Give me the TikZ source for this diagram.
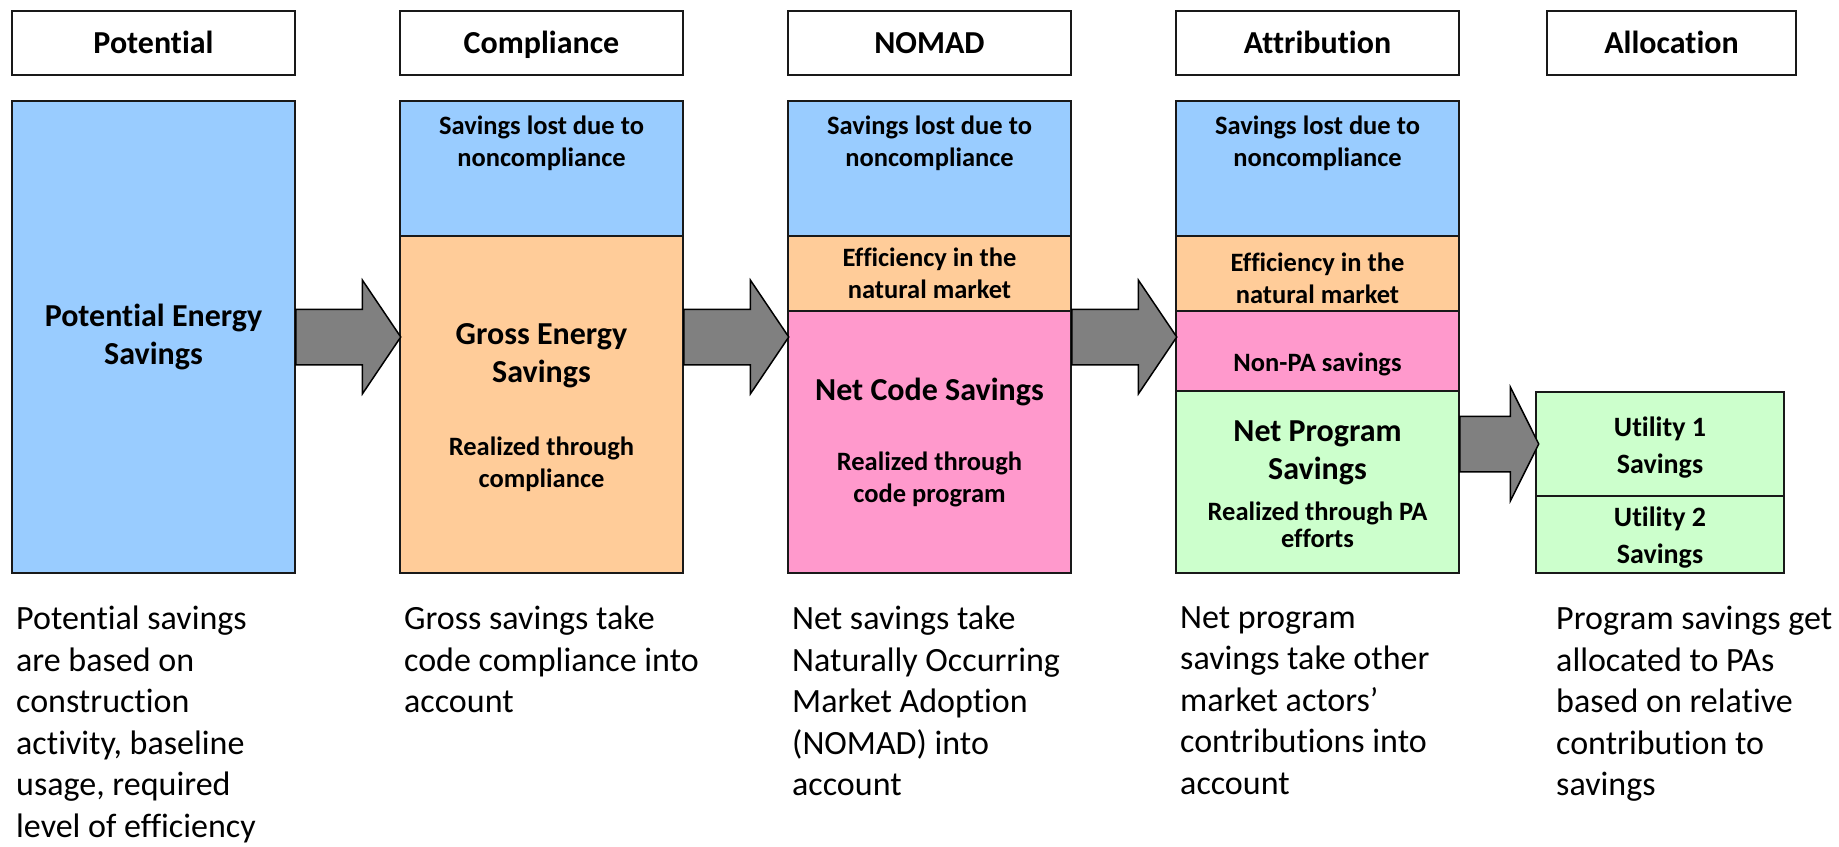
\documentclass[tikz,border=0pt]{standalone}
\usepackage{fontspec}
\setmainfont{Carlito}[Ligatures=NoCommon]
\usetikzlibrary{positioning,shapes.arrows}

\definecolor{lostblue}{HTML}{99CCFF}
\definecolor{marketorange}{HTML}{FFCC99}
\definecolor{netpink}{HTML}{FF99CC}
\definecolor{pagreen}{HTML}{CCFFCC}

\begin{document}
\begin{tikzpicture}[x=1pt,y=-1pt]
% STYLES
\tikzset{%
    stage/.style={%
        rectangle, draw=black!90, line width=2pt, minimum width=283pt,
        minimum height=64pt, inner sep=0pt, outer sep=0pt,
        text height=24pt, text depth=4pt,
        font=\fontsize{32}{39}\selectfont\bfseries
    },
    part/.style={%
        rectangle, draw=black!90, line width=2pt, minimum width=283pt,
        inner sep=0pt, outer sep=0pt
    },
    big/.style={font=\fontsize{32}{38}\selectfont\bfseries, align=center, inner sep=0pt},
    small/.style={font=\fontsize{26.5}{32}\selectfont\bfseries, align=center, inner sep=0pt},
    note/.style={font=\fontsize{34}{41.5}\selectfont, align=left, anchor=north west, inner sep=0pt},
    flow/.style={%
        single arrow, draw=black, fill=black!50, line width=1.5pt,
        minimum height=105pt, inner xsep=0pt, inner ysep=27pt,
        single arrow head extend=29pt, single arrow tip angle=112, anchor=tail
    }
}
\useasboundingbox (0,0) rectangle (1839,846);

% Stage titles
\node [stage] (hpot) at (153.5,43) {Potential};
\node [stage, right=105pt of hpot] (hcomp) {Compliance};
\node [stage, right=105pt of hcomp] (hnomad) {NOMAD};
\node [stage, right=105pt of hnomad] (hattr) {Attribution};
\node [stage, right=88pt of hattr, minimum width=249pt] (halloc) {Allocation};

% Potential
\node [part, big, fill=lostblue, minimum height=472pt, below=26pt of hpot] (pot) {Potential Energy\\Savings};

% Compliance
\node [part, fill=lostblue, minimum height=135pt, below=26pt of hcomp] (lost2) {};
\node [part, fill=marketorange, minimum height=337pt, below=0pt of lost2] (gross) {};
\node [small, below=15pt of lost2.north] (lost2txt) {Savings lost due to\\noncompliance};
\node [big] (grosstxt) at ([yshift=49pt]gross.center) {Gross Energy\\Savings};
\node [small] (grosssub) at ([yshift=-60pt]gross.center) {Realized through\\compliance};

% NOMAD
\node [part, fill=lostblue, minimum height=135pt, below=26pt of hnomad] (lost3) {};
\node [part, small, fill=marketorange, minimum height=75pt, below=0pt of lost3] (nat3) {Efficiency in the\\natural market};
\node [part, fill=netpink, minimum height=262pt, below=0pt of nat3] (code) {};
\node [small, below=15pt of lost3.north] (lost3txt) {Savings lost due to\\noncompliance};
\node [big] (codetxt) at ([yshift=50pt]code.center) {Net Code Savings};
\node [small] (codesub) at ([yshift=-37pt]code.center) {Realized through\\code program};

% Attribution
\node [part, fill=lostblue, minimum height=135pt, below=26pt of hattr] (lost4) {};
\node [part, fill=marketorange, minimum height=75pt, below=0pt of lost4] (nat4) {};
\node [part, fill=netpink, minimum height=80pt, below=0pt of nat4] (nonpa) {};
\node [part, fill=pagreen, minimum height=182pt, below=0pt of nonpa] (prog) {};
\node [small, below=15pt of lost4.north] (lost4txt) {Savings lost due to\\noncompliance};
\node [small] (nat4txt) at ([yshift=-5pt]nat4.center) {Efficiency in the\\natural market};
\node [small] (nonpatxt) at ([yshift=-13pt]nonpa.center) {Non-PA savings};
\node [big] (progtxt) at ([yshift=29pt]prog.center) {Net Program\\Savings};
\node [small, font=\fontsize{26.5}{27}\selectfont\bfseries] (progsub) at ([yshift=-43pt]prog.center) {Realized through PA\\efforts};

% Allocation
\node [part, fill=pagreen, minimum width=248pt, minimum height=104pt] (util1) at (1660,444) {};
\node [part, fill=pagreen, minimum width=248pt, minimum height=77pt, below=0pt of util1] (util2) {};
\node [big, font=\fontsize{28}{37}\selectfont\bfseries] (util1txt) at ([yshift=-4pt]util1.center) {Utility 1\\Savings};
\node [big, font=\fontsize{28}{37}\selectfont\bfseries] (util2txt) at ([yshift=-3pt]util2.center) {Utility 2\\Savings};

% Flow arrows
\node [flow] (arr1) at (pot.east) {};
\node [flow] (arr2) at (hcomp.east |- pot.east) {};
\node [flow] (arr3) at (hnomad.east |- pot.east) {};
\node [flow, minimum height=79pt, single arrow tip angle=127] (arr4) at (hattr.east |- util1.west) {};

% Notes
\node [note, below right=33pt and 4pt of pot.south west] (npot) {Potential savings\\are based on\\construction\\activity, baseline\\usage, required\\level of efficiency};
\node [note, below right=33pt and 4pt of gross.south west] (ngross) {Gross savings take\\code compliance into\\account};
\node [note, below right=33pt and 4pt of code.south west] (ncode) {Net savings take\\Naturally Occurring\\Market Adoption\\(NOMAD) into\\account};
\node [note, below right=33pt and 4pt of prog.south west] (nprog) {Net program\\savings take other\\market actors’\\contributions into\\account};
\node [note, below right=33pt and 20pt of util2.south west] (nutil) {Program savings get\\allocated to PAs\\based on relative\\contribution to\\savings};
\end{tikzpicture}
\end{document}
